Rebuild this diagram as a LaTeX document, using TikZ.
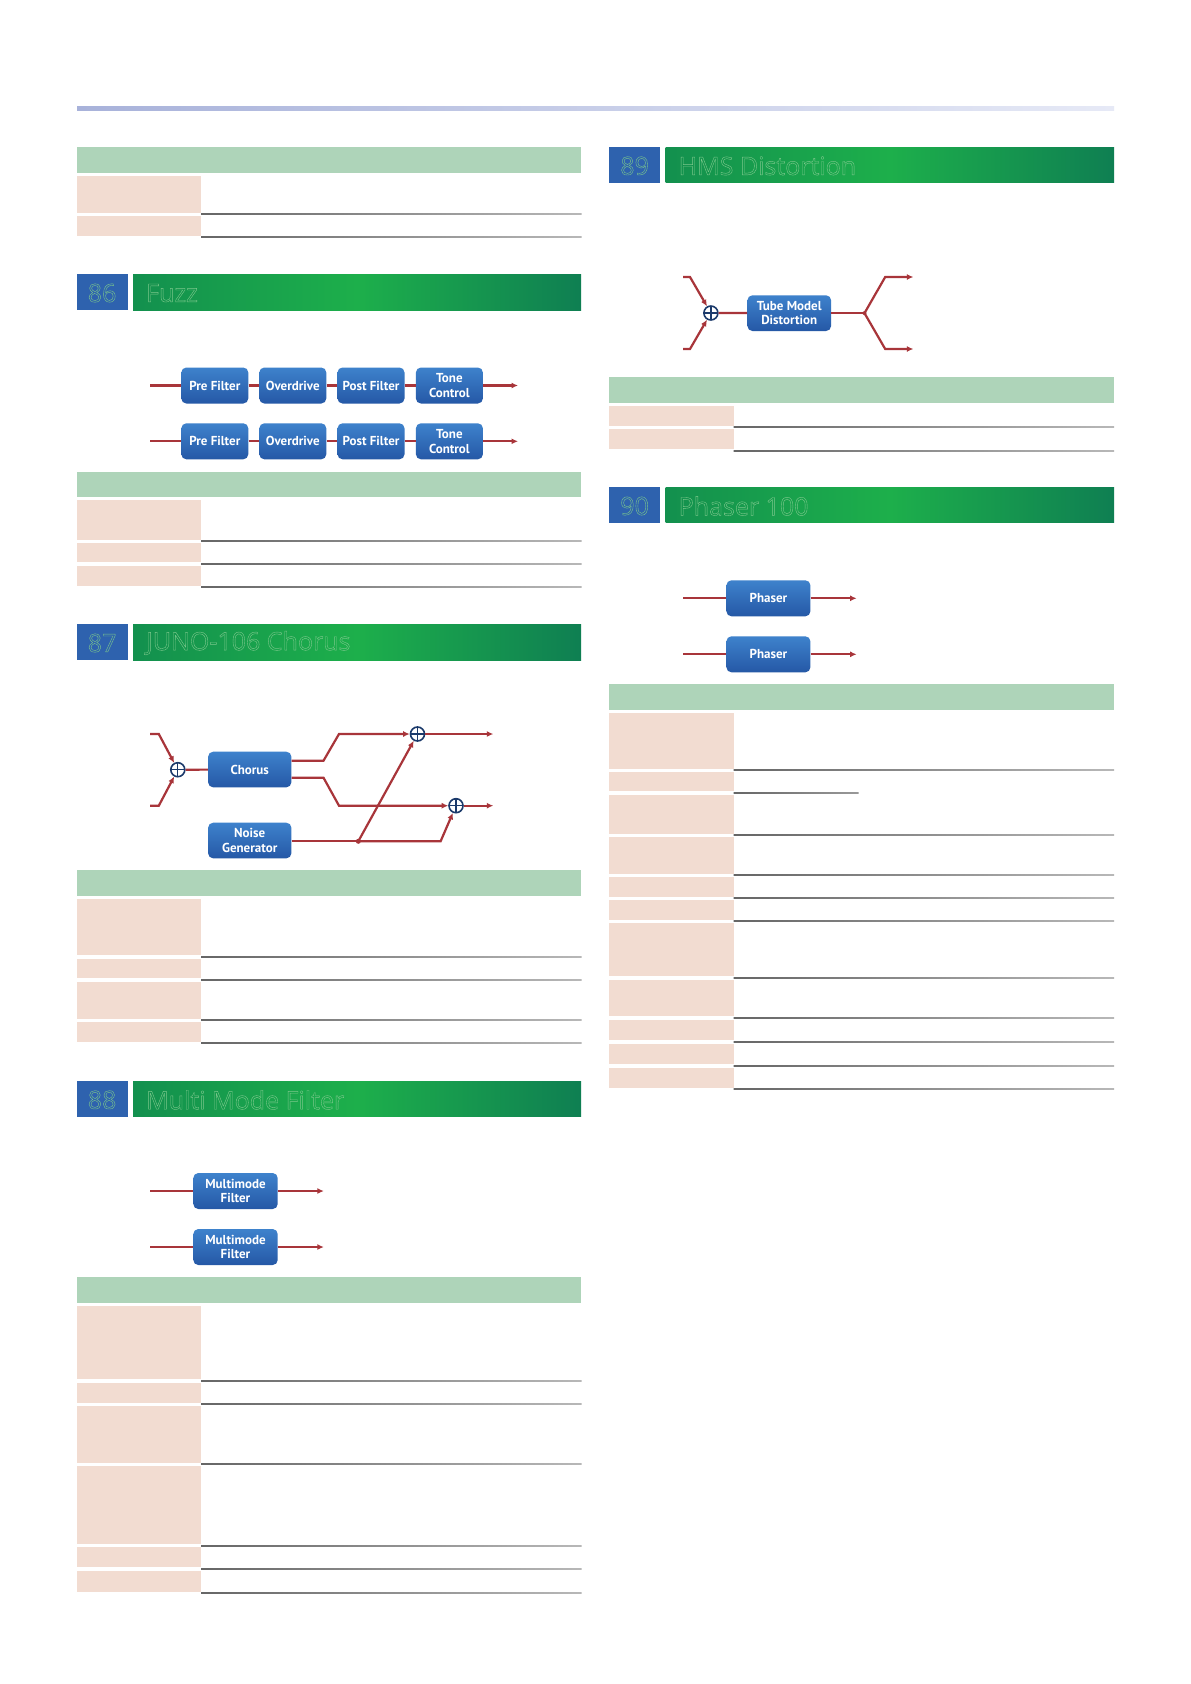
\documentclass[tikz,border=0pt]{standalone}
\usepackage{fontspec}
\setmainfont{PT Sans}
\newfontfamily\hdfont{Open Sans}
\usetikzlibrary{arrows.meta,calc}
\definecolor{sig}{HTML}{A8353A}
\definecolor{tgreen}{HTML}{AED4B9}
\definecolor{tpink}{HTML}{F2DCD1}
\definecolor{hblue}{HTML}{2E62AE}
\definecolor{gA}{HTML}{13904E}
\definecolor{gB}{HTML}{1DAF4B}
\definecolor{gC}{HTML}{0F7F52}
\definecolor{bTop}{HTML}{3E82CC}
\definecolor{bBot}{HTML}{2558A6}
\definecolor{navy}{HTML}{1B3A6B}
\definecolor{outl}{HTML}{7CC88C}
\newcommand{\outlinetext}[1]{\special{pdf:code 1 Tr 0.4 w}#1\special{pdf:code 0 Tr}}
\tikzset{
  fxbox/.style={rounded corners=5pt, top color=bTop, bottom color=bBot, draw=none,
    text=white, font=\fontsize{13}{14.5}\selectfont\bfseries, align=center, inner sep=1pt},
  sigline/.style={draw=sig, line width=2.2pt},
  sigarrow/.style={sigline, -{Latex[length=6.5pt,width=6pt]}},
  sumnode/.style={circle, draw=navy, fill=white, line width=1.6pt, minimum size=14pt, inner sep=0pt,
    path picture={\draw[navy, line width=1.2pt] (path picture bounding box.north) -- (path picture bounding box.south)
      (path picture bounding box.west) -- (path picture bounding box.east);}},
  numtxt/.style={text=outl, font=\hdfont\fontsize{25}{25}\selectfont, inner sep=0pt},
  titletxt/.style={text=outl, font=\hdfont\fontsize{25}{25}\selectfont, inner sep=0pt, anchor=west},
  dotnode/.style={circle, fill=sig, inner sep=0pt, minimum size=5pt}
}
\newcommand{\hdr}[6]{% x1 x2 y1 y2 num title
  \fill[hblue] (#1,#3) rectangle (#1+51.3,#4);
  \shade[left color=gA, right color=gC, middle color=gB] (#1+56.6,#3) rectangle (#2,#4);
  \node[numtxt] at (#1+25.6,{(#3+#4)/2+1}) {\outlinetext{#5}};
  \node[titletxt] at (#1+69.5,{(#3+#4)/2+1}) {\outlinetext{#6}};
}
\newcommand{\tgreen}[4]{\fill[tgreen] (#1,#3) rectangle (#2,#4);}
\newcommand{\prow}[4]{\fill[tpink] (#1,#2) rectangle (#1+124.6,#3); \shade[left color=black!60, right color=black!28] (#1+124.6,#4-0.5) rectangle (#1+505,#4+0.5);}
\begin{document}
\begin{tikzpicture}[x=1pt,y=-1pt]
\useasboundingbox (0,0) rectangle (1191,1684);
\fill[white] (0,0) rectangle (1191,1684);
% top rule
\shade[left color={rgb,255:red,168;green,178;blue,218}, right color={rgb,255:red,230;green,233;blue,246}] (77,106.8) rectangle (1114,110);

% ===== table 0
\tgreen{76.5}{581}{147.3}{172.7}
\prow{76.5}{176}{212.7}{214.3}
\prow{76.5}{215.7}{236}{237.3}

% ===== 86 Fuzz
\hdr{76.5}{581}{274}{310}{86}{Fuzz}
\node[fxbox, minimum width=67pt, minimum height=36pt] (a1) at (214.8,385.5) {Pre Filter};
\node[fxbox, minimum width=67pt, minimum height=36pt] (a2) at (292.8,385.5) {Overdrive};
\node[fxbox, minimum width=67pt, minimum height=36pt] (a3) at (371,385.5) {Post Filter};
\node[fxbox, minimum width=67pt, minimum height=36pt] (a4) at (449.4,385.5) {Tone\\Control};
\node[fxbox, minimum width=67pt, minimum height=36pt] (b1) at (214.8,441.3) {Pre Filter};
\node[fxbox, minimum width=67pt, minimum height=36pt] (b2) at (292.8,441.3) {Overdrive};
\node[fxbox, minimum width=67pt, minimum height=36pt] (b3) at (371,441.3) {Post Filter};
\node[fxbox, minimum width=67pt, minimum height=36pt] (b4) at (449.4,441.3) {Tone\\Control};
\coordinate (ain) at (150.2,385.5); \coordinate (aout) at (518,385.5);
\coordinate (bin) at (150.2,441.3); \coordinate (bout) at (518,441.3);
\draw[sigline] (ain) -- (a1); \draw[sigline] (a1) -- (a2); \draw[sigline] (a2) -- (a3); \draw[sigline] (a3) -- (a4);
\draw[sigarrow] (a4) -- (aout);
\draw[sigline] (bin) -- (b1); \draw[sigline] (b1) -- (b2); \draw[sigline] (b2) -- (b3); \draw[sigline] (b3) -- (b4);
\draw[sigarrow] (b4) -- (bout);

\tgreen{76.5}{581}{471.7}{496.7}
\prow{76.5}{500}{540}{541.3}
\prow{76.5}{543.3}{561.7}{564.3}
\prow{76.5}{566}{586}{587.3}

% ===== 87 JUNO-106 Chorus
\hdr{76.5}{581}{624}{660}{87}{JUNO-106 Chorus}
\node[fxbox, minimum width=83.3pt, minimum height=35.6pt] (chorus) at (249.75,769.5) {Chorus};
\node[fxbox, minimum width=83.3pt, minimum height=35.6pt] (noise) at (249.75,840.5) {Noise\\Generator};
\node[sumnode] (s1) at (177.8,769.7) {};
\node[sumnode] (s2) at (417.5,734) {};
\node[sumnode] (s3) at (456,805.7) {};
\coordinate (i1) at (150.2,734); \coordinate (i1b) at (158.8,734);
\coordinate (i2) at (150.2,805.7); \coordinate (i2b) at (158.8,805.7);
\coordinate (o1) at (493.3,734); \coordinate (o2) at (493.3,805.7);
\coordinate (nd) at (358.3,841.3);
\draw[sigarrow] (i1) -- (i1b) -- (s1);
\draw[sigarrow] (i2) -- (i2b) -- (s1);
\draw[sigline] (s1) -- (chorus);
\draw[sigarrow] ($(chorus.east)+(0,-8.8)$) -- (323.5,760.7) -- (339,734) -- (s2);
\draw[sigarrow] ($(chorus.east)+(0,8.2)$) -- (323.5,777.7) -- (339,805.7) -- (s3);
\draw[sigarrow] (s2) -- (o1);
\draw[sigarrow] (s3) -- (o2);
\draw[sigline] (noise.east |- nd) -- (nd);
\draw[sigarrow] (nd) -- (440.6,841.3) -- (s3);
\draw[sigarrow] (nd) -- (s2);
\node[dotnode] at (nd) {};

\tgreen{76.5}{581}{870}{895.7}
\prow{76.5}{899.3}{955.3}{957.3}
\prow{76.5}{959}{978}{980.3}
\prow{76.5}{982}{1018.7}{1020.3}
\prow{76.5}{1022}{1041.7}{1043.3}

% ===== 88 Multi Mode Filter
\hdr{76.5}{581}{1081}{1116.7}{88}{Multi Mode Filter}
\node[fxbox, minimum width=84.4pt, minimum height=36pt] (m1) at (235.5,1191) {Multimode\\Filter};
\node[fxbox, minimum width=84.4pt, minimum height=36pt] (m2) at (235.5,1247) {Multimode\\Filter};
\coordinate (m1i) at (150.2,1191); \coordinate (m1o) at (323.8,1191);
\coordinate (m2i) at (150.2,1247); \coordinate (m2o) at (323.8,1247);
\draw[sigline] (m1i) -- (m1); \draw[sigarrow] (m1) -- (m1o);
\draw[sigline] (m2i) -- (m2); \draw[sigarrow] (m2) -- (m2o);

\tgreen{76.5}{581}{1277.3}{1302.7}
\prow{76.5}{1306}{1379.3}{1381}
\prow{76.5}{1382.7}{1402.7}{1404.3}
\prow{76.5}{1405.7}{1462.7}{1464.3}
\prow{76.5}{1466}{1544}{1546}
\prow{76.5}{1547.3}{1567}{1569.3}
\prow{76.5}{1571}{1591.7}{1593.3}

% ===== 89 HMS Distortion
\hdr{609}{1114}{147}{182.7}{89}{HMS Distortion}
\node[sumnode] (hs) at (710.9,313) {};
\node[fxbox, minimum width=83.7pt, minimum height=35.7pt] (tube) at (789.25,313.15) {Tube Model\\Distortion};
\coordinate (h1) at (683,277); \coordinate (h1b) at (690,277);
\coordinate (h2) at (683,349); \coordinate (h2b) at (690,349);
\coordinate (hsp) at (864.5,313.15);
\coordinate (ho1) at (913.4,277); \coordinate (ho2) at (913.4,349);
\draw[sigarrow] (h1) -- (h1b) -- (hs);
\draw[sigarrow] (h2) -- (h2b) -- (hs);
\draw[sigline] (hs) -- (tube);
\draw[sigline] (tube) -- (hsp);
\draw[sigarrow] (hsp) -- (885.2,277) -- (ho1);
\draw[sigarrow] (hsp) -- (885.2,349) -- (ho2);
\node[dotnode, minimum size=4pt] at (hsp) {};

\tgreen{609}{1114}{377.3}{402.7}
\prow{609}{406}{425.7}{427.3}
\prow{609}{429.3}{448.7}{450.7}

% ===== 90 Phaser 100
\hdr{609}{1114}{487.3}{522.7}{90}{Phaser 100}
\node[fxbox, minimum width=84pt, minimum height=36pt] (p1) at (768.4,598.3) {Phaser};
\node[fxbox, minimum width=84pt, minimum height=36pt] (p2) at (768.4,654.3) {Phaser};
\coordinate (p1i) at (683,598.3); \coordinate (p1o) at (856.6,598.3);
\coordinate (p2i) at (683,654.3); \coordinate (p2o) at (856.6,654.3);
\draw[sigline] (p1i) -- (p1); \draw[sigarrow] (p1) -- (p1o);
\draw[sigline] (p2i) -- (p2); \draw[sigarrow] (p2) -- (p2o);

\tgreen{609}{1114}{684}{709.7}
\prow{609}{713.3}{768.7}{770.3}
\fill[tpink] (609,772) rectangle (733.6,791.3);
\shade[left color=black!60, right color=black!40] (733.6,792.8) rectangle (858.7,793.8);
\prow{609}{795.3}{833.7}{835.3}
\prow{609}{837}{873.7}{875.3}
\prow{609}{877}{896.7}{898.3}
\prow{609}{900}{919.7}{921.3}
\prow{609}{923}{976.3}{978.3}
\prow{609}{979.7}{1016.3}{1018.3}
\prow{609}{1019.7}{1039.7}{1042.3}
\prow{609}{1043.7}{1063.7}{1066.3}
\prow{609}{1067.7}{1087.7}{1089.3}
\end{tikzpicture}
\end{document}
